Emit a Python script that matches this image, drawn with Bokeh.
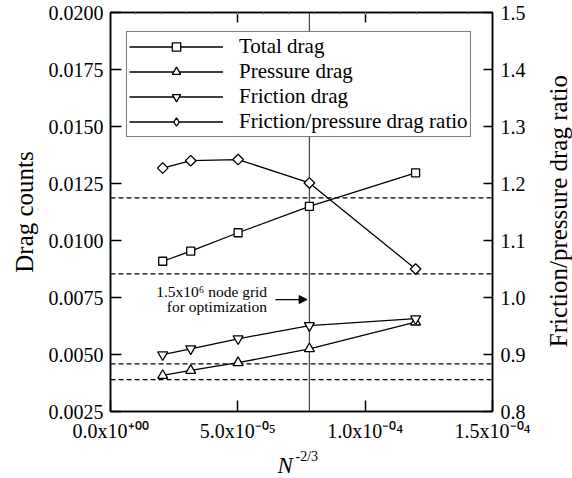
import numpy as np
from bokeh.plotting import figure
from bokeh.layouts import row
from bokeh.models import (Range1d, LinearAxis, FixedTicker, CustomJSTickFormatter,
                          PrintfTickFormatter, Span, Label, Arrow, NormalHead, Title,
                          Legend, LegendItem, ColumnDataSource, Div)
from bokeh.embed import file_html
from bokeh.resources import INLINE

# Grid-convergence data: N^-2/3 against drag components
grid_h = [2.05e-5, 3.15e-5, 5.01e-5, 7.81e-5, 1.198e-4]
total_drag = [0.00909, 0.00953, 0.01034, 0.01150, 0.01297]
pressure_drag = [0.00408, 0.00430, 0.00464, 0.00525, 0.00642]
friction_drag = [0.00499, 0.00525, 0.00569, 0.00627, 0.00657]
drag_ratio = [1.227, 1.240, 1.242, 1.201, 1.050]

# dashed reference levels (drag axis) and the grid used for optimization
ref_levels = [0.01187, 0.00854, 0.00459, 0.00390]
opt_grid_h = 7.81e-5

x_ticks = [0.0, 5e-5, 1e-4, 1.5e-4]
x_tick_labels = ["0.0x10\u207a\u2070\u2070", "5.0x10\u207b\u2070\u2075",
                 "1.0x10\u207b\u2070\u2074", "1.5x10\u207b\u2070\u2074"]
drag_ticks = [0.0025, 0.0050, 0.0075, 0.0100, 0.0125, 0.0150, 0.0175, 0.0200]
ratio_ticks = [0.8, 0.9, 1.0, 1.1, 1.2, 1.3, 1.4, 1.5]

FONT = "Liberation Serif"

p = figure(width=546, height=478,
           x_range=Range1d(0, 1.5e-4), y_range=Range1d(0.0025, 0.02),
           x_axis_type=None, y_axis_type=None,
           output_backend="svg", toolbar_location=None,
           min_border_left=110, min_border_right=54,
           min_border_top=12, min_border_bottom=67)
p.extra_y_ranges = {"ratio": Range1d(0.8, 1.5)}
p.outline_line_color = "black"
p.outline_line_width = 1.5
p.background_fill_color = "white"
p.border_fill_color = "white"


def style_axis(ax, tick_in):
    ax.axis_line_color = "black"
    ax.axis_line_width = 1.5
    ax.major_tick_in = tick_in
    ax.major_tick_out = 0
    ax.major_tick_line_width = 1.5
    ax.minor_tick_in = 0
    ax.minor_tick_out = 0
    ax.major_label_text_font = FONT
    ax.major_label_text_font_size = "20px"
    ax.major_label_text_color = "black"
    ax.axis_label_text_font = FONT
    ax.axis_label_text_font_size = "25px"
    ax.axis_label_text_font_style = "normal"
    ax.axis_label_text_color = "black"


xfmt = CustomJSTickFormatter(args=dict(tick_vals=x_ticks, tick_text=x_tick_labels), code="""
    let best = 0;
    for (let i = 0; i < tick_vals.length; i++) {
        if (Math.abs(tick_vals[i] - tick) < Math.abs(tick_vals[best] - tick)) best = i;
    }
    return tick_text[best];
""")
xaxis = LinearAxis(ticker=FixedTicker(ticks=x_ticks), formatter=xfmt)
style_axis(xaxis, 11)
xaxis.major_label_standoff = 8
p.add_layout(xaxis, "below")

# x-axis title N^-2/3: superscript first, then the italic N pulled up beside it
p.add_layout(Title(text="-2/3", text_font=FONT, text_font_size="14px",
                   text_font_style="normal", text_color="black",
                   align="left", offset=185, vertical_align="bottom", standoff=5), "below")
p.add_layout(Title(text="N", text_font=FONT, text_font_size="23px",
                   text_font_style="italic", text_color="black",
                   align="left", offset=167, vertical_align="top", standoff=-27), "below")

top_minor = [k * 1e-5 for k in range(1, 15)]
topaxis = LinearAxis(ticker=FixedTicker(ticks=[5e-5, 1e-4], minor_ticks=top_minor),
                     formatter=CustomJSTickFormatter(code="return ''"))
style_axis(topaxis, 10)
topaxis.minor_tick_in = 2
topaxis.minor_tick_line_color = "#888888"
topaxis.major_label_text_font_size = "1px"
topaxis.major_label_standoff = 0
p.add_layout(topaxis, "above")

yaxis = LinearAxis(ticker=FixedTicker(ticks=drag_ticks),
                   formatter=PrintfTickFormatter(format="%.4f"),
                   axis_label="Drag counts")
style_axis(yaxis, 11)
yaxis.major_label_standoff = 7
yaxis.axis_label_standoff = 8
p.add_layout(yaxis, "left")

raxis = LinearAxis(ticker=FixedTicker(ticks=ratio_ticks), y_range_name="ratio",
                   formatter=PrintfTickFormatter(format="%.1f"))
style_axis(raxis, 9)
raxis.major_label_standoff = 8
p.add_layout(raxis, "right")

# reference lines behind the data
for lvl in ref_levels:
    p.add_layout(Span(location=lvl, dimension="width", line_color="black",
                      line_width=1.2, line_dash="5 3", level="underlay"))
p.add_layout(Span(location=opt_grid_h, dimension="height", line_color="#444444",
                  line_width=1.2, level="underlay"))

src = ColumnDataSource(dict(h=grid_h, total=total_drag, pressure=pressure_drag,
                            friction=friction_drag, ratio=drag_ratio))
LW = 1.3
mk = dict(fill_color="white", line_color="black", line_width=LW)

l1 = p.line("h", "total", source=src, line_color="black", line_width=LW)
m1 = p.scatter("h", "total", source=src, marker="square", size=8, **mk)
l2 = p.line("h", "pressure", source=src, line_color="black", line_width=LW)
m2 = p.scatter("h", "pressure", source=src, marker="triangle", size=10, **mk)
l3 = p.line("h", "friction", source=src, line_color="black", line_width=LW)
m3 = p.scatter("h", "friction", source=src, marker="inverted_triangle", size=10, **mk)
l4 = p.line("h", "ratio", source=src, line_color="black", line_width=LW, y_range_name="ratio")
m4 = p.scatter("h", "ratio", source=src, marker="square", angle=np.pi / 4, size=7.5,
               y_range_name="ratio", **mk)
# legend key for the ratio series (legend symbols are drawn unrotated, so use a
# zero-size diamond that only shows up in the legend)
m4_key = p.scatter("h", "ratio", source=src, marker="diamond", size=0,
                   y_range_name="ratio", **mk)

legend = Legend(items=[
    LegendItem(label="Total drag", renderers=[l1, m1]),
    LegendItem(label="Pressure drag", renderers=[l2, m2]),
    LegendItem(label="Friction drag", renderers=[l3, m3]),
    LegendItem(label="Friction/pressure drag ratio", renderers=[l4, m4_key]),
], location=(16, 274))
legend.margin = 0
legend.padding = 2
legend.spacing = 0
legend.glyph_width = 94
legend.glyph_height = 21
legend.label_height = 21
legend.label_standoff = 16
legend.label_text_font = FONT
legend.label_text_font_size = "21px"
legend.label_text_color = "black"
legend.border_line_color = "black"
legend.border_line_width = 1.5
legend.background_fill_color = "white"
legend.background_fill_alpha = 1.0
p.add_layout(legend, "center")

# annotation for the optimization grid
note = dict(text_font=FONT, text_font_size="15.5px", text_color="black",
            text_align="right", text_baseline="middle")
p.add_layout(Label(x=6.15e-5, y=0.00778, text="1.5x10\u2076 node grid", **note))
p.add_layout(Label(x=6.15e-5, y=0.00712, text="for optimization", **note))
p.add_layout(Arrow(end=NormalHead(size=8, fill_color="black", line_color="black"),
                   x_start=6.48e-5, y_start=0.00741, x_end=7.72e-5, y_end=0.00741,
                   line_color="black", line_width=1.2))

# right-hand axis title, reading bottom to top
ratio_title = Div(
    text=('<div style="margin-top:12px;height:399px;display:flex;align-items:center;">'
          '<span style="writing-mode:vertical-rl;transform:rotate(180deg);'
          'font-family:\'Liberation Serif\';font-size:25px;line-height:25px;'
          'white-space:nowrap;color:black;">Friction/pressure drag ratio</span></div>'),
    width=26, height=478, margin=0)

layout = row(p, ratio_title, spacing=0)

open("out.html", "w").write(file_html(layout, INLINE))
